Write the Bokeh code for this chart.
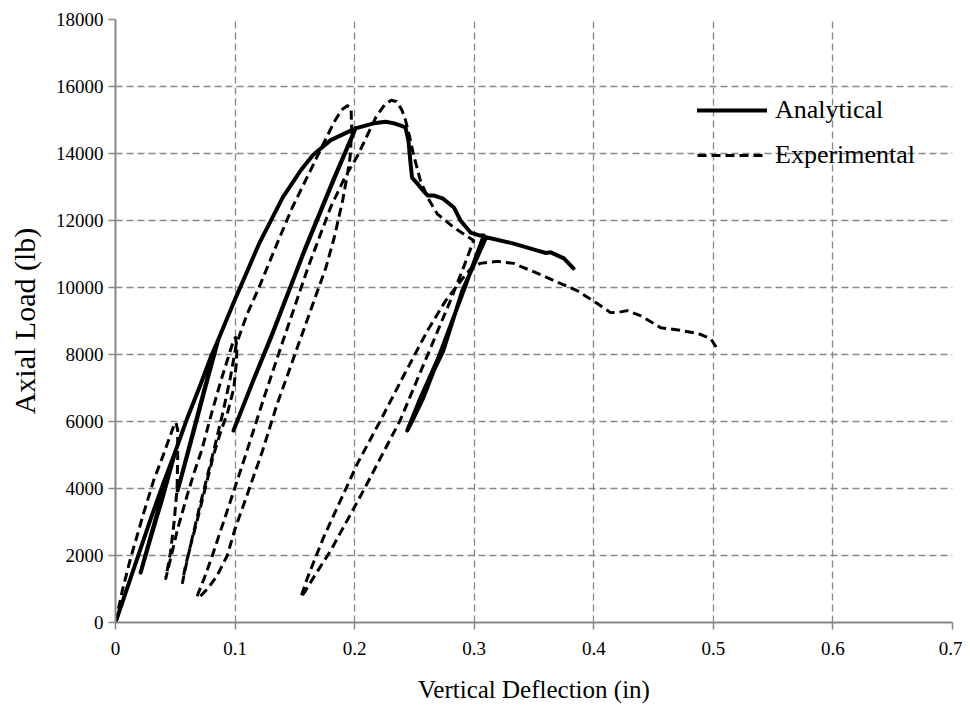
from bokeh.plotting import figure
from bokeh.models import Range1d, FixedTicker, Legend, LegendItem
from bokeh.embed import file_html
from bokeh.resources import INLINE

# ---- data ----
x_ticks = [0, 0.1, 0.2, 0.3, 0.4, 0.5, 0.6, 0.7]
x_tick_labels = ["0", "0.1", "0.2", "0.3", "0.4", "0.5", "0.6", "0.7"]
y_ticks = [0, 2000, 4000, 6000, 8000, 10000, 12000, 14000, 16000, 18000]

analytical_x = [0, 0.01, 0.02, 0.03, 0.04, 0.05,
                0.04, 0.03, 0.021,
                0.03, 0.04, 0.05,
                0.06, 0.07, 0.08, 0.086,
                0.075, 0.065, 0.052,
                0.065, 0.075, 0.086,
                0.1, 0.12, 0.14, 0.155, 0.165, 0.18, 0.2007,
                0.18, 0.157, 0.13, 0.115, 0.0987,
                0.116, 0.132, 0.159, 0.182, 0.2007,
                0.216, 0.226, 0.233, 0.238, 0.2425, 0.245, 0.2465, 0.248, 0.2525,
                0.257, 0.261, 0.266, 0.274, 0.283, 0.2885, 0.297, 0.305, 0.308,
                0.29, 0.27, 0.255, 0.244,
                0.25, 0.2576, 0.266, 0.274, 0.29, 0.31,
                0.333, 0.353, 0.36, 0.364, 0.375, 0.383]
analytical_y = [0, 1050, 2100, 3150, 4150, 5100,
                3800, 2600, 1490,
                2650, 3900, 5100,
                6100, 7000, 7950, 8450,
                7000, 5650, 3940,
                5700, 7050, 8450,
                9650, 11300, 12700, 13500, 13950, 14400, 14750,
                13000, 11000, 8500, 7200, 5730,
                7300, 8700, 11200, 13200, 14750,
                14900, 14950, 14900, 14840, 14780, 14390, 13800, 13280, 13100,
                12900, 12750, 12750, 12650, 12390, 12000, 11640, 11550, 11550,
                9800, 7900, 6700, 5730,
                6150, 6720, 7500, 8100, 9900, 11500,
                11310, 11100, 11030, 11050, 10870, 10570]

experimental_x = [0, 0.006, 0.0125, 0.0234, 0.032, 0.040, 0.046, 0.049, 0.0505, 0.052,
                  0.052, 0.052, 0.0515, 0.049, 0.046, 0.043, 0.042,
                  0.046, 0.052, 0.06, 0.066, 0.072, 0.08, 0.088, 0.095, 0.099, 0.1004, 0.1015,
                  0.1012, 0.099, 0.094, 0.088, 0.082, 0.075, 0.068, 0.062, 0.058, 0.056,
                  0.059, 0.064, 0.07, 0.077, 0.084, 0.09, 0.096, 0.101, 0.11, 0.12, 0.135,
                  0.148, 0.163, 0.174, 0.183, 0.189, 0.194, 0.197, 0.1975,
                  0.1965, 0.1955, 0.19, 0.183, 0.176, 0.166, 0.15, 0.135, 0.123, 0.11, 0.1,
                  0.0935, 0.085, 0.078, 0.072, 0.068,
                  0.0695, 0.074, 0.081, 0.095, 0.11, 0.125, 0.14, 0.161, 0.18, 0.192, 0.202,
                  0.21, 0.218, 0.225, 0.2305, 0.235, 0.2395, 0.2425, 0.246, 0.249, 0.255,
                  0.261, 0.269, 0.283, 0.2995,
                  0.29, 0.28, 0.27, 0.26, 0.25, 0.238, 0.2074, 0.18, 0.1656, 0.158, 0.155,
                  0.1606, 0.174, 0.2024, 0.2216, 0.24, 0.261, 0.276, 0.291, 0.298, 0.305,
                  0.3195, 0.333, 0.353, 0.372, 0.386, 0.403, 0.414, 0.421, 0.428, 0.439,
                  0.456, 0.4725, 0.487, 0.4976, 0.5026]
experimental_y = [0, 1000, 1900, 3250, 4250, 5000, 5600, 5900, 5970, 5750,
                  5700, 4900, 4000, 3000, 2100, 1500, 1310,
                  1900, 2800, 3800, 4500, 5130, 6200, 7200, 8000, 8450, 8510, 8200,
                  7800, 7000, 6300, 5700, 5000, 4000, 3000, 2200, 1600, 1190,
                  1700, 2500, 3400, 4400, 5400, 6300, 7300, 8300, 9200, 10000, 11300,
                  12400, 13490, 14300, 14950, 15300, 15430, 15350, 14800,
                  14000, 13700, 12600, 11500, 10600, 9600, 8000, 6500, 5130, 3800, 2800,
                  2000, 1400, 1050, 820, 750,
                  900, 1300, 2000, 3500, 5130, 6800, 8400, 10600, 12400, 13300, 13900,
                  14500, 15100, 15450, 15590, 15550, 15300, 15000, 14500, 14000, 13190,
                  12690, 12200, 11790, 11400,
                  10500, 9600, 8750, 7900, 7050, 6030, 3940, 2150, 1340, 900, 750,
                  1340, 2540, 4750, 6030, 7300, 8720, 9600, 10300, 10600, 10720,
                  10780, 10720, 10420, 10120, 9910, 9520, 9250, 9260, 9310, 9160,
                  8800, 8720, 8630, 8480, 8210]

FONT = "Liberation Serif"
GRID = "#878787"

p = figure(output_backend="svg", toolbar_location=None,
           x_range=Range1d(0, 0.7), y_range=Range1d(0, 18000),
           frame_width=837, frame_height=603,
           min_border_left=115, min_border_top=19, min_border_right=10, min_border_bottom=80)
p.outline_line_color = None
p.background_fill_color = "white"

p.xaxis.ticker = FixedTicker(ticks=x_ticks)
p.yaxis.ticker = FixedTicker(ticks=y_ticks)
p.xaxis.major_label_overrides = {t: l for t, l in zip(x_ticks, x_tick_labels)}
p.xaxis.minor_tick_line_color = None
p.yaxis.minor_tick_line_color = None

for ax in (p.xaxis, p.yaxis):
    ax.axis_line_color = GRID
    ax.axis_line_width = 2
    ax.major_tick_line_color = GRID
    ax.major_tick_line_width = 1.5
    ax.major_tick_in = 0
    ax.major_tick_out = 7
    ax.major_label_text_font = FONT
    ax.major_label_text_font_size = "19px"
    ax.major_label_text_color = "black"
    ax.axis_label_text_font = FONT
    ax.axis_label_text_font_style = "normal"
    ax.axis_label_text_color = "black"

p.xaxis.axis_label = "Vertical Deflection (in)"
p.yaxis.axis_label = "Axial Load (lb)"
p.xaxis.axis_label_text_font_size = "25px"
p.yaxis.axis_label_text_font_size = "30px"
p.xaxis.major_label_standoff = 12
p.yaxis.major_label_standoff = 5
p.xaxis.axis_label_standoff = 18
p.yaxis.axis_label_standoff = 12

p.xgrid.grid_line_color = GRID
p.ygrid.grid_line_color = GRID
p.xgrid.grid_line_width = 1.3
p.ygrid.grid_line_width = 1.3
p.xgrid.grid_line_dash = "7 4"
p.ygrid.grid_line_dash = "7 4"

r_exp = p.line(experimental_x, experimental_y, line_color="black", line_width=3,
               line_dash="9 5", line_join="round")
r_ana = p.line(analytical_x, analytical_y, line_color="black", line_width=4,
               line_join="round", line_cap="round")

legend = Legend(items=[LegendItem(label="Analytical", renderers=[r_ana]),
                       LegendItem(label="Experimental", renderers=[r_exp])],
                location=(582, 451), orientation="vertical",
                glyph_width=70, glyph_height=32, label_height=32, spacing=13,
                label_standoff=8, padding=0, margin=0,
                border_line_color=None, background_fill_alpha=0,
                label_text_font=FONT, label_text_font_size="26px",
                label_text_color="black")
p.add_layout(legend, "center")

open("out.html", "w").write(file_html(p, INLINE))
